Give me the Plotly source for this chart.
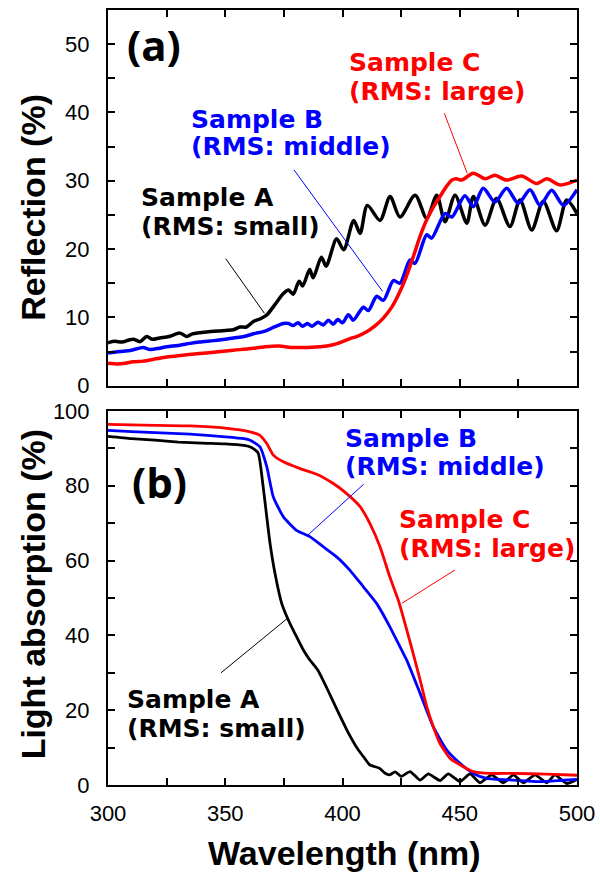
import plotly.graph_objects as go

# ---------------- (a) Reflection data ----------------
refl_a_nm = [300, 303, 306, 309, 311, 313.7, 316.5, 319, 322, 326, 330.7, 333.6, 336, 339, 343, 347,
             350, 353.5, 356.3, 359, 362, 365, 367.7, 371, 374.8, 377, 379, 381.5, 383, 386, 387.5,
             391, 393, 397.5, 400.5, 404.8, 407.5, 410.6, 416, 420.3, 424.5, 431, 435.9, 440.2,
             443.7, 448, 453, 455.8, 460.8, 465.7, 471.4, 475.7, 480.7, 485.6, 491.3, 495.6, 500]
refl_a = [6.3, 6.5, 6.4, 6.7, 6.8, 6.45, 7.2, 6.8, 7.0, 7.2, 7.7, 7.2, 7.6, 7.75, 7.9, 8.0,
          8.1, 8.2, 8.6, 8.6, 9.4, 9.8, 10.35, 11.8, 13.5, 14.0, 13.4, 15.3, 14.6, 17.0, 15.8,
          18.8, 17.5, 21.5, 19.9, 24.2, 22.3, 26.4, 24.2, 27.7, 24.7, 27.9, 24.5, 27.9,
          24.0, 27.9, 23.8, 27.7, 23.5, 27.4, 23.3, 27.2, 22.8, 27.0, 22.7, 27.2, 25.2]

refl_b_nm = [300, 305, 310, 315, 318, 322, 325, 330, 335, 339, 345, 350, 353.5, 358, 362, 367, 371,
             374.8, 377, 379, 381, 383, 385, 387, 389.5, 391.8, 394, 396, 398, 400, 402.5, 404.6,
             408.9, 411, 414.6, 417.4, 421.7, 424.5, 428.8, 430.9, 435.9, 438, 443.7, 446.6,
             452.2, 455.8, 460, 465, 470, 475, 480, 484.2, 489.2, 494.2, 500]
refl_b = [4.8, 5.0, 5.2, 5.6, 5.3, 5.5, 5.7, 5.9, 6.2, 6.4, 6.6, 6.8, 7.0, 7.2, 7.6, 8.0, 8.6,
          9.1, 9.1, 8.8, 9.2, 8.7, 9.1, 8.7, 9.3, 8.9, 9.6, 9.0, 9.7, 9.2, 10.4, 9.6,
          11.5, 11.0, 13.1, 12.5, 15.4, 15.0, 18.4, 17.9, 22.1, 21.6, 25.2, 24.7,
          27.8, 26.2, 28.9, 26.9, 28.9, 26.7, 28.7, 26.4, 28.6, 26.4, 28.7]

refl_c_nm = [300, 305, 310.8, 315, 320, 325, 330, 339, 345, 353.5, 360, 367, 373, 378, 384.7, 390,
             393.3, 398, 403.2, 406, 410.3, 414, 417.4, 421, 424.5, 427, 430.2, 433, 435.9, 438.5,
             441.6, 444, 446.6, 448.5, 450.8, 455.8, 460.8, 465, 470, 476.4, 482.8, 487.1, 492.8, 500]
refl_c = [3.3, 3.2, 3.5, 3.6, 3.9, 4.2, 4.4, 4.7, 4.9, 5.2, 5.4, 5.7, 5.8, 5.6, 5.6, 5.7,
          5.8, 6.2, 6.9, 7.2, 7.9, 8.8, 9.9, 11.5, 13.8, 15.8, 18.9, 21.8, 24.3, 26.0,
          27.7, 29.0, 30.1, 30.3, 30.1, 31.1, 30.3, 30.8, 30.1, 30.7, 29.6, 30.3, 29.4, 30.1]

# ---------------- (b) Light absorption data ----------------
abs_a_nm = [300, 310, 320, 330, 340, 350, 358, 361, 364, 366, 367.7, 369.1, 371.2, 374.1, 376.9,
            379.7, 383.3, 386, 389.4, 394.4, 397.6, 402.6, 406.7, 409, 411.6, 415.7, 418, 420,
            422.5, 425, 428.8, 433.1, 436.6, 441.6, 445.1, 450.1, 454.4, 458.6, 463.6, 468.6,
            472.9, 477.1, 482.1, 487.1, 490.6, 495.6, 500]
abs_a = [93.2, 92.6, 92.2, 91.7, 91.4, 91.2, 90.8, 90.3, 88.8, 80.6, 71.7, 64.6, 56.6, 48.5, 44.1,
         40.5, 36.1, 33.5, 30.8, 24.5, 20.2, 13.8, 9.4, 7.5, 5.4, 4.5, 3.2, 2.7,
         3.5, 2.3, 3.6, 1.3, 2.95, 1.2, 2.95, 0.9, 2.95, 0.6, 2.7, 0.6,
         2.7, 0.6, 2.7, 0.6, 2.7, 0.4, 1.5]

abs_b_nm = [300, 310, 320, 335, 350, 358, 360.6, 364.8, 367.7, 370.5, 374.8, 380.4, 386.1, 391.8,
            397.5, 403.2, 408.9, 414.6, 420.2, 425.2, 427.4, 433.1, 438.7, 444.4, 450.1, 455.8,
            461.5, 472.9, 484.2, 492.8, 500]
abs_b = [94.8, 94.5, 94.2, 93.8, 93.1, 92.6, 92.2, 90.4, 85.1, 77.0, 71.7, 68.1, 66.4, 63.7,
         61.0, 57.4, 53.0, 48.5, 42.3, 36.1, 33.4, 24.5, 15.6, 9.4, 5.8, 3.1,
         1.8, 1.3, 0.9, 1.2, 1.5]

abs_c_nm = [300, 315, 335, 350, 360.6, 364.8, 367.7, 370.5, 374.8, 381.9, 389, 396.1, 401.8, 407.5,
            411.7, 416, 420.2, 423.8, 427.4, 430.2, 433.1, 435.9, 438.7, 441.6, 445.9, 451.5,
            455.8, 462.9, 472.9, 487.1, 500]
abs_c = [96.4, 96.2, 96.0, 95.4, 94.4, 93.5, 91.3, 88.2, 86.4, 84.6, 83.1, 80.6, 77.9, 74.4,
         69.9, 63.7, 55.6, 49.4, 41.5, 35.0, 28.1, 21.0, 15.6, 11.1, 7.1, 4.9,
         3.6, 3.1, 3.1, 2.9, 2.6]

# ---------------- labels ----------------
colors = {"A": "#000000", "B": "#0000FF", "C": "#FF0000"}
sample_names = {"A": "Sample A", "B": "Sample B", "C": "Sample C"}
rms_labels = {"A": "(RMS: small)", "B": "(RMS: middle)", "C": "(RMS: large)"}
panel_labels = ["(a)", "(b)"]
x_title = "Wavelength (nm)"
y_titles = ["Reflection (%)", "Light absorption (%)"]

# label anchor positions in data coordinates: (x, y line1, y line2)
text_pos_a = {"A": (313.6, 27.5, 23.3), "B": (335.0, 39.0, 35.0), "C": (402.3, 47.3, 43.05)}
text_pos_b = {"A": (307.7, 22.9, 15.2), "B": (400.6, 92.6, 85.2), "C": (423.7, 70.9, 63.1)}
# leader lines (x0, y0, x1, y1)
leader_a = {"A": (350.2, 18.6, 366.7, 10.6), "B": (379.3, 31.6, 417.1, 13.8), "C": (443.4, 39.9, 453.2, 31.1)}
leader_b = {"A": (348.2, 30.0, 376.6, 44.6), "B": (385.2, 66.8, 409.0, 80.4), "C": (425.4, 48.6, 448.0, 57.5)}

fig = go.Figure()

for key, xs, ys in [("A", refl_a_nm, refl_a), ("B", refl_b_nm, refl_b), ("C", refl_c_nm, refl_c)]:
    fig.add_trace(go.Scatter(x=xs, y=ys, mode="lines", xaxis="x", yaxis="y", showlegend=False,
                             line=dict(color=colors[key], width=3.5, shape="spline", smoothing=0.8)))
for key, xs, ys in [("A", abs_a_nm, abs_a), ("B", abs_b_nm, abs_b), ("C", abs_c_nm, abs_c)]:
    fig.add_trace(go.Scatter(x=xs, y=ys, mode="lines", xaxis="x2", yaxis="y2", showlegend=False,
                             line=dict(color=colors[key], width=2.8, shape="spline", smoothing=0.5)))

tickfont = dict(family="Liberation Sans, Arial, sans-serif", size=22, color="black")
common = dict(showline=True, linecolor="black", linewidth=2, mirror="ticks", ticks="inside",
              ticklen=7, tickwidth=1.5, tickcolor="black", showgrid=False, zeroline=False,
              tickfont=tickfont, automargin=False)
minor_style = dict(ticks="inside", ticklen=7, tickwidth=1.5, tickcolor="black", showgrid=False)

fig.update_layout(
    template="none",
    width=600, height=874, autosize=False,
    margin=dict(l=108, r=23, t=10, b=89, pad=0),
    paper_bgcolor="white", plot_bgcolor="white",
    xaxis=dict(range=[300, 500], anchor="y", dtick=25, showticklabels=False, **common),
    yaxis=dict(range=[0, 55], domain=[0.5152, 1.0], anchor="x", dtick=10, ticklabelstandoff=12,
               minor=dict(dtick=5, **minor_style), **common),
    xaxis2=dict(range=[300, 500], anchor="y2", dtick=50, ticklabelstandoff=8,
                minor=dict(dtick=25, **minor_style), **common),
    yaxis2=dict(range=[0, 100], domain=[0.0, 0.4826], anchor="x2", dtick=20, ticklabelstandoff=12,
                minor=dict(dtick=10, **minor_style), **common),
)

ann_font = "DejaVu Sans, Verdana, sans-serif"
annotations = []
shapes = []
for (xr, yr, tpos, lead) in [("x", "y", text_pos_a, leader_a), ("x2", "y2", text_pos_b, leader_b)]:
    for key in ["A", "B", "C"]:
        x, y1, y2 = tpos[key]
        for txt, yy in [(sample_names[key], y1), (rms_labels[key], y2)]:
            annotations.append(dict(x=x, y=yy, xref=xr, yref=yr, text="<b>%s</b>" % txt, showarrow=False,
                                    xanchor="left", yanchor="middle", borderpad=0,
                                    font=dict(family=ann_font, size=25, color=colors[key])))
        x0, y0, x1, y1l = lead[key]
        shapes.append(dict(type="line", xref=xr, yref=yr, x0=x0, y0=y0, x1=x1, y1=y1l,
                           line=dict(color=colors[key], width=1)))

annotations.append(dict(x=307.2, y=49.9, xref="x", yref="y", text="<b>%s</b>" % panel_labels[0],
                        showarrow=False, xanchor="left", yanchor="middle",
                        font=dict(family="Open Sans, sans-serif", size=42, color="black")))
annotations.append(dict(x=309.4, y=81.1, xref="x2", yref="y2", text="<b>%s</b>" % panel_labels[1],
                        showarrow=False, xanchor="left", yanchor="middle",
                        font=dict(family="Open Sans, sans-serif", size=42, color="black")))

title_font = dict(family="Liberation Sans, Arial, sans-serif", size=34, color="black")
annotations.append(dict(x=-0.16, y=26.2, xref="paper", yref="y", text="<b>%s</b>" % y_titles[0],
                        showarrow=False, textangle=-90, xanchor="center", yanchor="middle", font=title_font))
annotations.append(dict(x=-0.161, y=51.1, xref="paper", yref="y2", text="<b>%s</b>" % y_titles[1],
                        showarrow=False, textangle=-90, xanchor="center", yanchor="middle", font=title_font))
annotations.append(dict(x=400.9, y=-0.0877, xref="x2", yref="paper", text="<b>%s</b>" % x_title,
                        showarrow=False, xanchor="center", yanchor="middle", font=title_font))

fig.update_layout(annotations=annotations, shapes=shapes)
fig.write_html("out.html", config={"displayModeBar": False},
               post_script="document.body.style.margin='0px';")
